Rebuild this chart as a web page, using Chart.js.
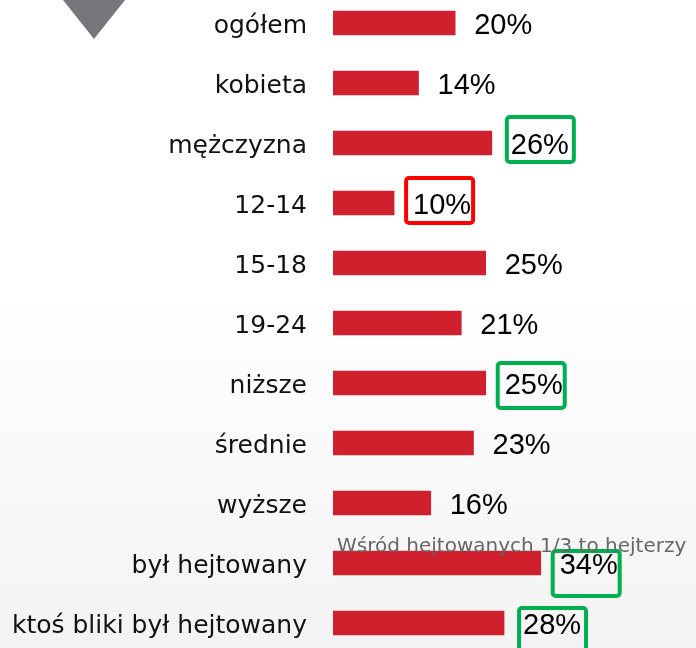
<!DOCTYPE html>
<html lang="pl">
<head>
<meta charset="utf-8">
<title>Hejt - wykres</title>
<script src="https://cdn.jsdelivr.net/npm/chart.js@4/dist/chart.umd.min.js"></script>
<style>
  html, body { margin: 0; padding: 0; }
  body {
    width: 696px; height: 648px; overflow: hidden; position: relative;
    background: linear-gradient(to bottom, #ffffff 0%, #ffffff 45%, #f3f3f3 100%);
  }
  #tri {
    position: absolute; left: 63px; top: 0; width: 62px; height: 39px;
    background: #77767b; clip-path: polygon(0 0, 100% 0, 50% 100%);
  }
  #wrap { position: absolute; left: 0; top: -7px; width: 696px; height: 660px; }
</style>
</head>
<body>
<div id="tri"></div>
<div id="wrap"><canvas id="chart"></canvas></div>
<script>
// ---------------- dane ----------------
const categories = ['ogółem', 'kobieta', 'mężczyzna', '12-14', '15-18', '19-24',
                    'niższe', 'średnie', 'wyższe', 'był hejtowany', 'ktoś bliki był hejtowany'];
const values = [20, 14, 26, 10, 25, 21, 25, 23, 16, 34, 28];
// ramka wokół etykiety (null = brak)
const highlight = [null, null, 'green', 'red', null, null, 'green', null, null, 'green', 'green'];
const noteText = 'Wśród hejtowanych 1/3 to hejterzy';

// ---------------- wygląd ----------------
const BAR_COLOR = '#d0202e';
const BOX_COLORS = { green: '#00b050', red: '#ff0000' };
// przesunięcia ramek względem początku etykiety / środka słupka
const boxNudge = { 2: [-6, -28], 3: [-9, -27], 6: [-9, -22], 9: [-9, -14], 10: [-6, -17] };

const labelsPlugin = {
  id: 'valueLabels',
  afterDatasetsDraw(chart){
    const ctx = chart.ctx;
    const meta = chart.getDatasetMeta(0);
    ctx.save();
    meta.data.forEach((bar, i) => {
      const tx = bar.x + 19, ty = bar.y + 3;
      ctx.font = '29px "Liberation Sans", Arial, sans-serif';
      ctx.fillStyle = '#000';
      ctx.textAlign = 'left';
      ctx.textBaseline = 'middle';
      ctx.fillText(values[i] + '%', tx, ty);
      if(highlight[i]){
        const [dx, dy] = boxNudge[i] || [-8, -25];
        const bx = tx + dx, by = bar.y + dy;
        ctx.strokeStyle = BOX_COLORS[highlight[i]];
        ctx.lineWidth = 4;
        ctx.beginPath();
        ctx.roundRect(bx + 2, by + 2, 67, 45, 3);
        ctx.stroke();
      }
    });
    // notatka nad słupkiem "był hejtowany"
    const b = meta.data[9];
    ctx.font = '20px "DejaVu Sans", sans-serif';
    ctx.fillStyle = '#666';
    ctx.textBaseline = 'alphabetic';
    ctx.fillText(noteText, chart.chartArea.left + 4, b.y - 11);
    ctx.restore();
  }
};

new Chart(document.getElementById('chart'), {
  type: 'bar',
  data: {
    labels: categories,
    datasets: [{ data: values, backgroundColor: BAR_COLOR, barThickness: 24 }]
  },
  options: {
    indexAxis: 'y',
    responsive: true,
    maintainAspectRatio: false,
    animation: false,
    layout: { padding: { left: 0, right: 27, top: 0, bottom: 0 } },
    plugins: { legend: { display: false }, tooltip: { enabled: false } },
    scales: {
      x: { display: false, min: 0, max: 55 },
      y: {
        grid: { display: false, drawTicks: false },
        border: { display: false },
        ticks: {
          color: '#111',
          padding: 26,
          labelOffset: 3,
          font: { family: '"DejaVu Sans", sans-serif', size: 25 }
        },
        afterFit(scale){
          scale.width = 333;
          scale.paddingTop = 0;
          scale.paddingBottom = 0;
        }
      }
    }
  },
  plugins: [labelsPlugin]
});
</script>
</body>
</html>
